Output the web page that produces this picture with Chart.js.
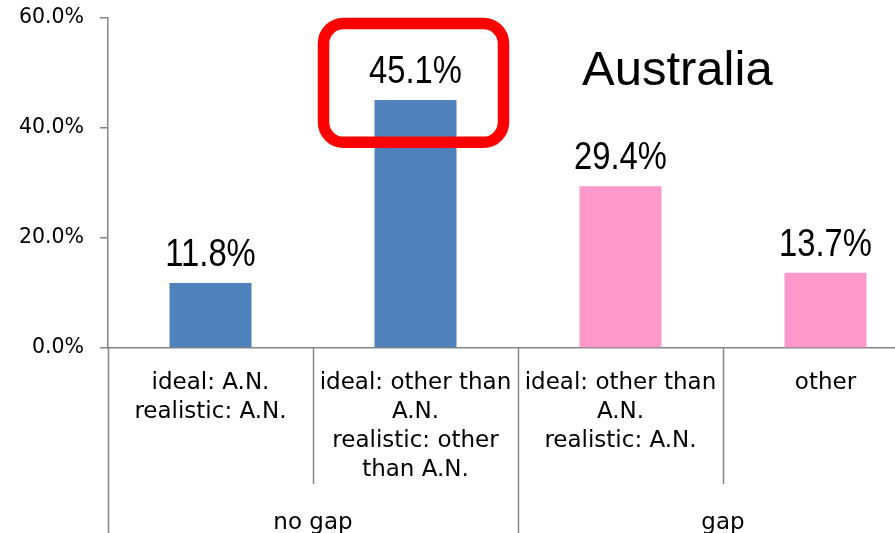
<!DOCTYPE html>
<html>
<head>
<meta charset="utf-8">
<script src="https://cdn.jsdelivr.net/npm/chart.js@4"></script>
<style>
  body { margin: 0; overflow: hidden; background: #fff; }
  #wrap { width: 928px; height: 533px; }
</style>
</head>
<body>
<div id="wrap"><canvas id="chart"></canvas></div>
<script>
// datos del gráfico
const categories = [
  ["ideal: A.N.", "realistic: A.N."],
  ["ideal: other than", "A.N.", "realistic: other", "than A.N."],
  ["ideal: other than", "A.N.", "realistic: A.N."],
  ["other"]
];
const groups = ["no gap", "gap"];
const groupSizes = [2, 2];
const values = [11.8, 45.1, 29.4, 13.7];
const barColors = ["#4F81BD", "#4F81BD", "#FF99CC", "#FF99CC"];
const yTicks = [0, 20, 40, 60];
const title = "Australia";
const highlighted = 1;

const axisGray = "#868686";

// etiquetas, separadores, grupos y recuadro rojo
const extras = {
  id: "extras",
  afterDatasetsDraw(chart) {
    const { ctx, scales: { x, y }, chartArea } = chart;
    const meta = chart.getDatasetMeta(0);

    // etiquetas de valor (fuente estrecha)
    ctx.save();
    ctx.fillStyle = "#000";
    ctx.font = "39px 'Liberation Sans'";
    ctx.textAlign = "center";
    ctx.textBaseline = "alphabetic";
    meta.data.forEach((bar, i) => {
      ctx.save();
      ctx.translate(bar.x, bar.y - 17);
      ctx.scale(0.84, 1);
      ctx.fillText(values[i].toFixed(1) + "%", 0, 0);
      ctx.restore();
    });
    ctx.restore();

    // separadores entre categorías
    const bottom = chartArea.bottom;
    const halfStep = (x.getPixelForValue(1) - x.getPixelForValue(0)) / 2;
    const boundaries = [];
    for (let i = 0; i <= categories.length; i++) {
      boundaries.push(x.getPixelForValue(i) - halfStep);
    }
    const groupEdges = [0];
    groupSizes.forEach((s) => groupEdges.push(groupEdges[groupEdges.length - 1] + s));

    ctx.save();
    ctx.strokeStyle = axisGray;
    ctx.lineWidth = 1.5;
    boundaries.forEach((bx, i) => {
      const long = groupEdges.includes(i);
      ctx.beginPath();
      ctx.moveTo(Math.round(bx) + 0.5, bottom);
      ctx.lineTo(Math.round(bx) + 0.5, long ? chart.height : bottom + 136);
      ctx.stroke();
    });

    // nombres de grupo
    ctx.fillStyle = "#000";
    ctx.font = "23px 'DejaVu Sans'";
    ctx.textAlign = "center";
    ctx.textBaseline = "middle";
    groups.forEach((g, i) => {
      const cx = (boundaries[groupEdges[i]] + boundaries[groupEdges[i + 1]]) / 2;
      ctx.fillText(g, cx, bottom + 175);
    });

    // título
    ctx.font = "49px 'Liberation Sans'";
    ctx.textAlign = "left";
    ctx.textBaseline = "alphabetic";
    ctx.fillText(title, 582, 85);

    // recuadro rojo alrededor de la barra destacada
    const hb = meta.data[highlighted];
    const left = hb.x - 92, right = hb.x + 88;
    const top = y.getPixelForValue(59), bot = y.getPixelForValue(37.4);
    ctx.strokeStyle = "#FF0000";
    ctx.lineWidth = 11.5;
    ctx.beginPath();
    ctx.roundRect(left, top, right - left, bot - top, 20);
    ctx.stroke();
    ctx.restore();
  }
};

const ctx = document.getElementById("chart").getContext("2d");
new Chart(ctx, {
  type: "bar",
  data: {
    labels: categories,
    datasets: [
      {
        data: values,
        backgroundColor: barColors,
        borderWidth: 0,
        barPercentage: 0.4,
        categoryPercentage: 1
      }
    ]
  },
  options: {
    responsive: true,
    maintainAspectRatio: false,
    animation: false,
    layout: { padding: { top: 18, left: 0, right: 0, bottom: 0 } },
    plugins: {
      legend: { display: false },
      tooltip: { enabled: false }
    },
    scales: {
      x: {
        grid: { display: false },
        border: { display: true, color: axisGray, width: 1.5 },
        ticks: {
          color: "#000",
          padding: 13,
          maxRotation: 0,
          autoSkip: false,
          font: { family: "'DejaVu Sans'", size: 23, lineHeight: 29 / 23 }
        },
        afterFit(scale) { scale.height = 185; }
      },
      y: {
        min: 0,
        max: 60,
        afterBuildTicks(scale) { scale.ticks = yTicks.map((v) => ({ value: v })); },
        grid: {
          drawOnChartArea: false,
          drawTicks: true,
          tickLength: 8,
          color: axisGray,
          lineWidth: 1.5
        },
        border: { display: true, color: axisGray, width: 1.5 },
        ticks: {
          color: "#000",
          padding: 16,
          font: { family: "'DejaVu Sans'", size: 20.5 },
          callback: (v) => v.toFixed(1) + "%"
        },
        afterFit(scale) {
          scale.width = 108;
          scale.paddingTop = 0;
          scale.paddingBottom = 0;
        }
      }
    }
  },
  plugins: [extras]
});
</script>
</body>
</html>
